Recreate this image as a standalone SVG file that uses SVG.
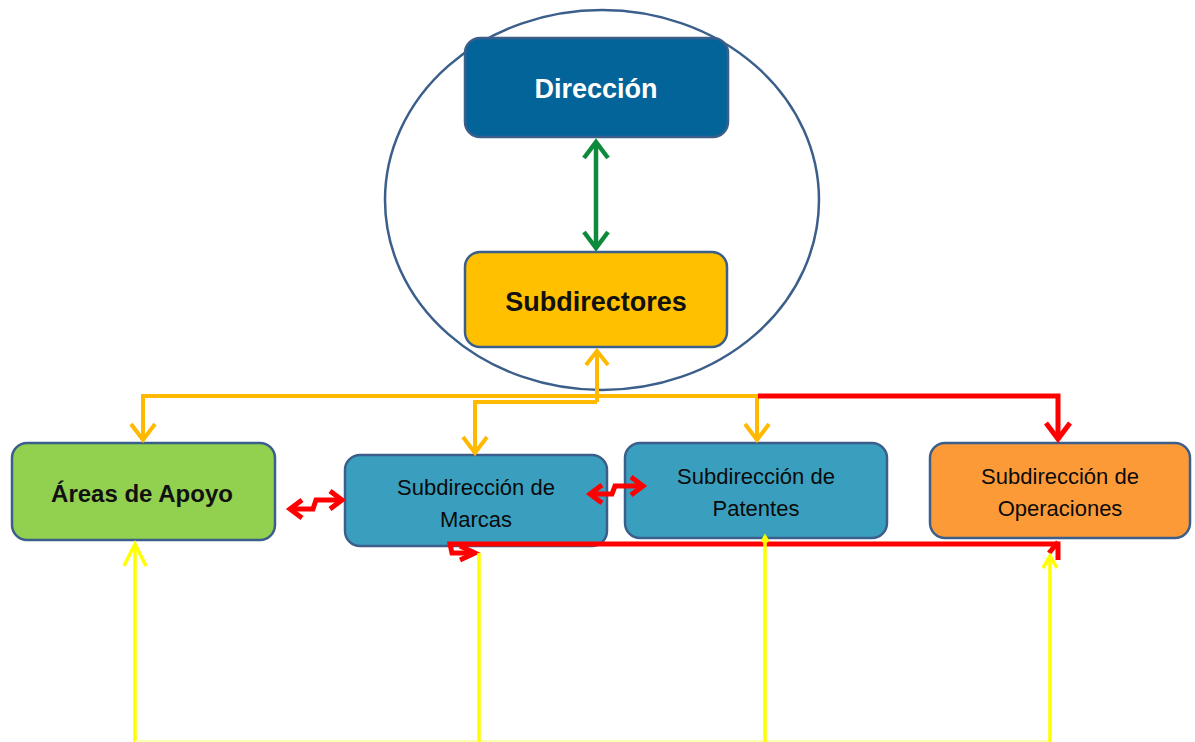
<svg xmlns="http://www.w3.org/2000/svg" width="1195" height="742" viewBox="0 0 1195 742">
<style>
.box{stroke:#3b5f8a;stroke-width:2.5}
.t{font-family:"Liberation Sans",Arial,sans-serif;text-anchor:middle}
.tb{font-weight:bold}
.sm{font-size:22px;fill:#0a0a0a}
.or{fill:none;stroke:#ffb900;stroke-width:4;stroke-linejoin:miter}
.rd{fill:none;stroke:#ff0000;stroke-width:5;stroke-linejoin:miter}
.ye{fill:none;stroke:#ffff00;stroke-width:3.5}
.gr{fill:none;stroke:#0e8a3c;stroke-width:4.5}
</style>
<rect width="1195" height="742" fill="#ffffff"/>
<g id="ellipse"><ellipse cx="602" cy="200" rx="217" ry="190" fill="none" stroke="#3b5f8a" stroke-width="2.5"/></g>
<g id="direccion">
  <rect class="box" x="465" y="38" width="263" height="99" rx="15" fill="#03649a"/>
  <text class="t tb" x="596" y="98" font-size="27" fill="#ffffff">Dirección</text>
</g>
<g id="subdirectores">
  <rect class="box" x="465" y="252" width="262" height="95" rx="15" fill="#ffc000"/>
  <text class="t tb" x="596" y="311" font-size="27" fill="#111">Subdirectores</text>
</g>
<g id="apoyo">
  <rect class="box" x="12" y="443" width="263" height="97" rx="15" fill="#92d050"/>
  <text class="t tb" x="142" y="502" font-size="24" fill="#111">Áreas de Apoyo</text>
</g>
<g id="marcas">
  <rect class="box" x="345" y="455" width="262" height="91" rx="15" fill="#3a9fbe"/>
  <text class="t sm" x="476" y="495">Subdirección de</text>
  <text class="t sm" x="476" y="527">Marcas</text>
</g>
<g id="patentes">
  <rect class="box" x="625" y="443" width="262" height="95" rx="15" fill="#3a9fbe"/>
  <text class="t sm" x="756" y="484">Subdirección de</text>
  <text class="t sm" x="756" y="516">Patentes</text>
</g>
<g id="operaciones">
  <rect class="box" x="930" y="443" width="260" height="95" rx="15" fill="#fd9a38"/>
  <text class="t sm" x="1060" y="484">Subdirección de</text>
  <text class="t sm" x="1060" y="516">Operaciones</text>
</g>
<g id="connectors">
  <!-- green double arrow -->
  <line class="gr" x1="596" y1="142" x2="596" y2="248"/>
  <polyline class="gr" points="584,158 596,142 608,158"/>
  <polyline class="gr" points="584,232 596,248 608,232"/>
  <!-- orange tree -->
  <line class="or" x1="597" y1="351" x2="597" y2="402"/>
  <polyline class="or" points="586,365 597,351 608,365"/>
  <polyline class="or" points="143,440 143,396 760,396"/>
  <polyline class="or" points="131,424 143,440 155,424"/>
  <polyline class="or" points="475,453 475,402 597,402"/>
  <polyline class="or" points="463,437 475,453 487,437"/>
  <line class="or" x1="757" y1="396" x2="757" y2="440"/>
  <polyline class="or" points="745,424 757,440 769,424"/>
  <!-- red top -->
  <polyline class="rd" points="758,396 1058,396 1058,439"/>
  <polyline class="rd" points="1046,423 1058,439 1070,423"/>
  <!-- red zigzag double arrows -->
  <polyline class="rd" points="290,509 313,509 316,500 342,500"/>
  <polyline class="rd" points="302,500 290,509 302,518"/>
  <polyline class="rd" points="330,491 342,500 330,509"/>
  <polyline class="rd" points="590,494 612,494 615,486 643,486"/>
  <polyline class="rd" points="602,485 590,494 602,503"/>
  <polyline class="rd" points="631,477 643,486 631,495"/>
  <!-- red bottom -->
  <polyline class="rd" points="475,553 452,553 450,544 1058,544 1058,560"/>
  <polyline class="rd" points="460,560 475,553 460,546"/>
  <polyline class="rd" points="1049,553 1058,542"/>
  <!-- yellow -->
  <polyline class="ye" points="135,544 135,742"/>
  <line x1="135" y1="741" x2="1050" y2="741" stroke="#ffffb0" stroke-width="2"/>
  <polyline class="ye" points="124,566 135,544 146,566"/>
  <line class="ye" x1="479" y1="553" x2="479" y2="742"/>
  <line class="ye" x1="765" y1="538" x2="765" y2="742"/>
  <polyline class="ye" points="762,542 765,537 768,542"/>
  <line class="ye" x1="1050" y1="556" x2="1050" y2="742"/>
  <polyline class="ye" points="1043,568 1050,556 1057,568"/>
</g>
</svg>
